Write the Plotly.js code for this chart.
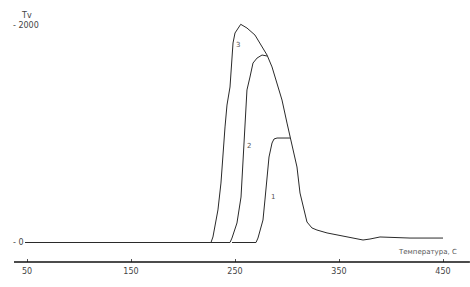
<!DOCTYPE html>
<html>
<head>
<meta charset="utf-8">
<script src="https://cdn.plot.ly/plotly-3.0.1.min.js"></script>
<style>html,body{margin:0;padding:0;background:#fff;}#chart{width:470px;height:287px;}</style>
</head>
<body>
<div id="chart"></div>
<script>
// Curve 3 (outer)
var x3 = [48.1, 226.9, 228.8, 233.6, 236.5, 238.5, 240.4, 242.3, 245.2, 248.1, 250.0, 255.5, 261.5, 269.2, 275.9, 280.8, 285.6, 290.4, 295.2, 300.0, 302.9, 309.6, 312.5, 316.3, 319.2, 324.0, 328.8, 338.5, 348.1, 360.6, 373.1, 379.8, 389.4, 418.3, 450.0];
var y3 = [0, 0, 51, 300, 548, 853, 1065, 1267, 1433, 1839, 1931, 2011, 1977, 1912, 1802, 1728, 1618, 1470, 1313, 1101, 972, 696, 456, 300, 189, 134, 115, 88, 69, 41, 23, 32, 51, 41, 41];
// Curve 2 (middle)
var x2 = [226.9, 245.2, 247.1, 251.9, 255.8, 257.7, 258.7, 260.6, 261.5, 264.4, 267.3, 271.2, 276.0, 280.8];
var y2 = [0, 0, 41, 180, 419, 760, 1009, 1313, 1406, 1525, 1654, 1700, 1728, 1719];
// Curve 1 (inner)
var x1 = [247.1, 270.2, 272.1, 276.9, 278.8, 280.8, 282.7, 285.6, 287.5, 290.4, 302.9];
var y1 = [0, 0, 41, 207, 392, 604, 788, 917, 954, 963, 963];

var curveNames = ['3', '2', '1'];
var labelX = [253.2, 263.7, 286.2];
var labelY = [1820, 889, 419];

var xTickVals = [50, 150, 250, 350, 450];
var xTickText = ['50', '150', '250', '350', '450'];
var yTickVals = [0, 2000];
var yTickText = ['- 0', '- 2000'];
var yTitle = 'Tv';
var xTitle = 'Температура, С';

var lineStyle = {color: '#2a2a2a', width: 1};
var traces = [
  {x: x3, y: y3, mode: 'lines', line: lineStyle, name: curveNames[0]},
  {x: x2, y: y2, mode: 'lines', line: lineStyle, name: curveNames[1]},
  {x: x1, y: y1, mode: 'lines', line: lineStyle, name: curveNames[2]}
];

var annotations = [];
for (var i = 0; i < curveNames.length; i++) {
  annotations.push({x: labelX[i], y: labelY[i], xref: 'x', yref: 'y', text: curveNames[i],
    showarrow: false, font: {family: 'DejaVu Sans', size: 7, color: '#555'}});
}
for (var j = 0; j < yTickVals.length; j++) {
  annotations.push({x: -0.0283, y: yTickVals[j], xref: 'paper', yref: 'y', text: yTickText[j],
    showarrow: false, xanchor: 'left', yanchor: 'middle', font: {family: 'DejaVu Sans', size: 8, color: '#444'}});
}
annotations.push({x: -0.0094, y: 0.961, xref: 'paper', yref: 'paper', text: yTitle, showarrow: false,
  xanchor: 'left', yanchor: 'middle', font: {family: 'DejaVu Sans', size: 8, color: '#444'}});
annotations.push({x: 1.028, y: 0.039, xref: 'paper', yref: 'paper', text: xTitle, showarrow: false,
  xanchor: 'right', yanchor: 'middle', font: {family: 'DejaVu Sans', size: 7, color: '#555'}});

var layout = {
  width: 470, height: 287,
  margin: {l: 23, r: 23, t: 5, b: 25, pad: 0},
  paper_bgcolor: '#fff', plot_bgcolor: '#fff',
  showlegend: false,
  xaxis: {range: [46.15, 453.85], tickvals: xTickVals, ticktext: xTickText, ticks: 'inside', ticklen: 3,
    tickcolor: '#555', showgrid: false, zeroline: false, showline: false, ticklabelstandoff: 3,
    tickfont: {family: 'DejaVu Sans', size: 8, color: '#444'}},
  yaxis: {range: [-179.7, 2189], showgrid: false, zeroline: false, showline: false, showticklabels: false, ticks: ''},
  shapes: [{type: 'line', xref: 'paper', yref: 'paper', x0: -0.0212, x1: 1.054, y0: 0, y1: 0,
    line: {color: '#111', width: 1.3}}],
  annotations: annotations
};
Plotly.newPlot('chart', traces, layout, {displayModeBar: false, staticPlot: true});
</script>
</body>
</html>
